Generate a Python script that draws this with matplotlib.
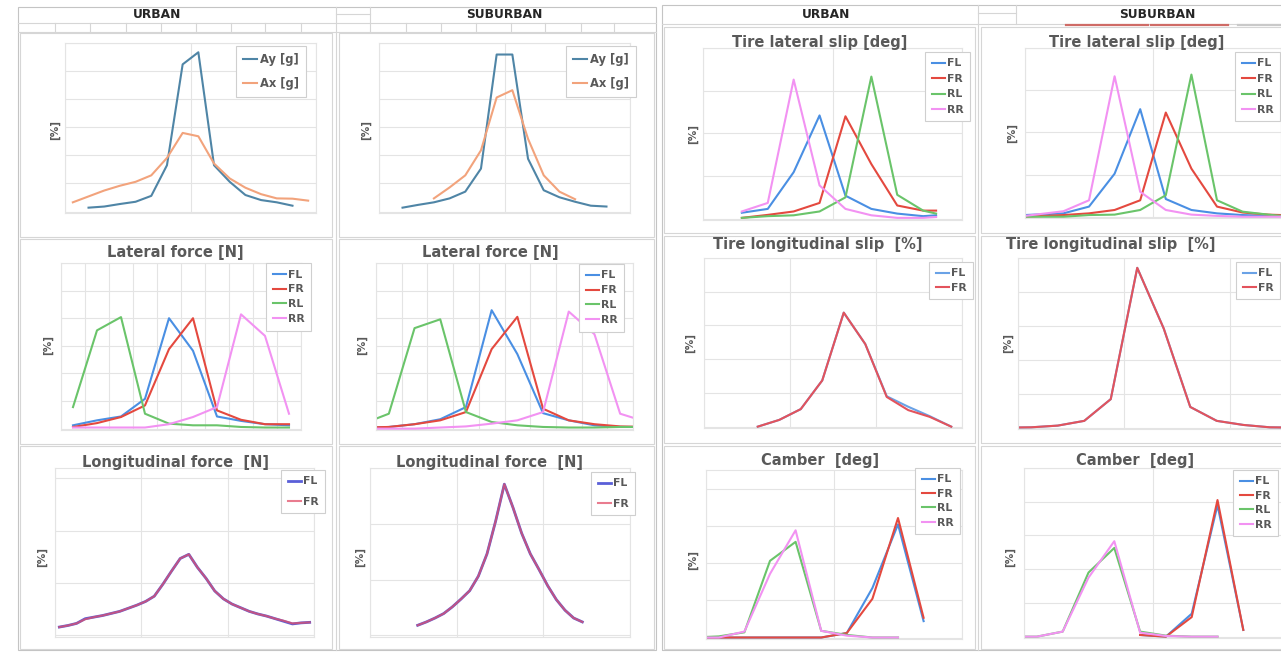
import numpy as np
import matplotlib
matplotlib.use("Agg")
import matplotlib.pyplot as plt
from matplotlib.lines import Line2D
from matplotlib.patches import Rectangle

W, H = 1281, 652
nan = np.nan

# ---------------------------------------------------------------- data
# vehicle accelerations, 16 bins
acc_bins = list(range(16))
ay_urban = [nan, 0.14, 0.18, 0.27, 0.35, 0.56, 1.65, 5.24, 5.67, 1.65, 1.06, 0.59, 0.41, 0.33, 0.21, nan]
ax_urban = [0.33, 0.54, 0.75, 0.92, 1.06, 1.29, 1.91, 2.80, 2.68, 1.71, 1.18, 0.85, 0.62, 0.47, 0.46, 0.39]
ay_suburban = [nan, 0.14, 0.24, 0.33, 0.47, 0.71, 1.53, 5.59, 5.59, 1.88, 0.76, 0.51, 0.35, 0.21, 0.18, nan]
ax_suburban = [nan, nan, nan, 0.47, 0.86, 1.29, 2.18, 4.06, 4.32, 2.59, 1.29, 0.71, 0.44, nan, nan, nan]

# lateral force, 10 bins (suburban has one extra bin on each side)
latf_bins_urban = list(range(10))
latf_fl_urban = [0.12, 0.30, 0.44, 1.08, 4.00, 2.82, 0.44, 0.28, 0.16, 0.12]
latf_fr_urban = [0.06, 0.20, 0.42, 0.84, 2.88, 4.00, 0.66, 0.32, 0.16, 0.16]
latf_rl_urban = [0.78, 3.56, 4.04, 0.54, 0.18, 0.12, 0.12, 0.06, 0.04, 0.04]
latf_rr_urban = [0.04, 0.04, 0.04, 0.04, 0.16, 0.42, 0.78, 4.14, 3.36, 0.54]
latf_bins_suburban = list(range(-1, 11))
latf_fl_suburban = [0.02, 0.06, 0.16, 0.34, 0.78, 4.29, 2.70, 0.56, 0.30, 0.12, 0.06, 0.06]
latf_fr_suburban = [0.04, 0.06, 0.16, 0.30, 0.60, 2.88, 4.05, 0.72, 0.30, 0.16, 0.08, 0.06]
latf_rl_suburban = [0.18, 0.54, 3.64, 3.96, 0.60, 0.24, 0.12, 0.06, 0.04, 0.04, 0.06, 0.06]
latf_rr_suburban = [0.00, 0.00, 0.00, 0.04, 0.08, 0.18, 0.30, 0.60, 4.24, 3.42, 0.54, 0.25]

# longitudinal force [N]
lonf_bins_urban = [-2900, -2700, -2500, -2300, -2100, -1900, -1700, -1500, -1300, -1100,
                   -900, -700, -500, -300, -100, 100, 300, 500, 700, 900,
                   1100, 1300, 1500, 1700, 1900, 2100, 2300, 2500, 2700, 2900]
lonf_fl_urban = [0.16, 0.19, 0.23, 0.32, 0.35, 0.38, 0.42, 0.46, 0.52, 0.58,
                 0.65, 0.75, 0.98, 1.23, 1.47, 1.55, 1.30, 1.09, 0.85, 0.70,
                 0.60, 0.53, 0.46, 0.41, 0.37, 0.32, 0.27, 0.22, 0.24, 0.25]
lonf_fr_urban = [0.16, 0.19, 0.23, 0.31, 0.35, 0.38, 0.42, 0.46, 0.52, 0.58,
                 0.65, 0.75, 0.98, 1.23, 1.47, 1.55, 1.30, 1.09, 0.85, 0.70,
                 0.60, 0.53, 0.46, 0.41, 0.37, 0.32, 0.28, 0.23, 0.24, 0.25]
lonf_bins_suburban = [-1900, -1700, -1500, -1300, -1100, -900, -700, -500, -300, -100,
                      100, 300, 500, 700, 900, 1100, 1300, 1500, 1700, 1900]
lonf_fl_suburban = [0.18, 0.24, 0.31, 0.39, 0.51, 0.65, 0.80, 1.06, 1.46, 2.05,
                    2.71, 2.29, 1.83, 1.46, 1.18, 0.89, 0.64, 0.45, 0.31, 0.24]
lonf_fr_suburban = [0.18, 0.24, 0.31, 0.39, 0.51, 0.65, 0.80, 1.06, 1.46, 2.05,
                    2.71, 2.29, 1.83, 1.46, 1.18, 0.89, 0.64, 0.45, 0.31, 0.24]

# tire lateral slip [deg]
slip_bins_urban = [-3.5, -2.5, -1.5, -0.5, 0.5, 1.5, 2.5, 3.5, 4.0]
slip_fl_urban = [0.14, 0.23, 1.09, 2.42, 0.54, 0.23, 0.12, 0.06, 0.08]
slip_fr_urban = [0.02, 0.09, 0.17, 0.37, 2.40, 1.28, 0.31, 0.19, 0.19]
slip_rl_urban = [0.02, 0.06, 0.08, 0.17, 0.50, 3.33, 0.56, 0.19, 0.12]
slip_rr_urban = [0.17, 0.37, 3.26, 0.78, 0.23, 0.08, 0.02, 0.02, 0.04]
slip_bins_suburban = [-5.0, -3.5, -2.5, -1.5, -0.5, 0.5, 1.5, 2.5, 3.5, 4.5, 5.0]
slip_fl_suburban = [0.04, 0.08, 0.24, 1.02, 2.55, 0.42, 0.16, 0.08, 0.04, 0.02, 0.02]
slip_fr_suburban = [0.00, 0.04, 0.08, 0.16, 0.39, 2.47, 1.14, 0.24, 0.10, 0.05, 0.04]
slip_rl_suburban = [0.00, 0.00, 0.04, 0.05, 0.16, 0.51, 3.37, 0.39, 0.12, 0.05, 0.02]
slip_rr_suburban = [0.02, 0.13, 0.39, 3.33, 0.59, 0.16, 0.05, 0.02, 0.00, 0.00, 0.00]

# tire longitudinal slip [%]
lslip_bins_urban = [-8.75, -6.25, -3.75, -1.25, 1.25, 3.75, 6.25, 8.75, 11.25, 13.75]
lslip_fl_urban = [0.00, 0.20, 0.52, 1.37, 3.38, 2.45, 0.90, 0.59, 0.31, 0.00]
lslip_fr_urban = [0.00, 0.20, 0.52, 1.37, 3.38, 2.45, 0.88, 0.49, 0.29, 0.00]
lslip_bins_suburban = [-16.25, -13.75, -11.25, -8.75, -6.25, -3.75, -1.25, 1.25, 3.75, 6.25, 8.75, 11.25]
lslip_fl_suburban = [0.00, 0.01, 0.06, 0.20, 0.84, 4.71, 2.92, 0.61, 0.20, 0.08, 0.01, 0.00]
lslip_fr_suburban = [0.00, 0.01, 0.06, 0.20, 0.84, 4.71, 2.92, 0.61, 0.20, 0.08, 0.01, 0.00]

# camber [deg]
camb_bins = [-5.5, -4.5, -3.5, -2.5, -1.5, -0.5, 0.5, 1.5, 2.5, 3.5, 4.5]
camb_fl_urban = [0.00, 0.00, 0.00, 0.00, 0.00, 0.00, 0.12, 1.33, 3.04, 0.44, nan]
camb_fr_urban = [0.00, 0.00, 0.00, 0.00, 0.00, 0.00, 0.12, 1.04, 3.21, 0.53, nan]
camb_rl_urban = [0.00, 0.03, 0.14, 2.06, 2.57, 0.18, 0.07, 0.00, 0.00, nan, nan]
camb_rr_urban = [0.00, 0.00, 0.16, 1.71, 2.88, 0.18, 0.05, 0.00, 0.00, nan, nan]
camb_fl_suburban = [nan, nan, nan, nan, nan, 0.05, 0.00, 0.68, 3.90, 0.20, nan]
camb_fr_suburban = [nan, nan, nan, nan, nan, 0.05, 0.00, 0.58, 4.05, 0.20, nan]
camb_rl_suburban = [0.00, 0.00, 0.15, 1.90, 2.63, 0.15, 0.03, 0.00, 0.00, nan, nan]
camb_rr_suburban = [0.00, 0.00, 0.15, 1.75, 2.83, 0.12, 0.02, 0.00, 0.00, nan, nan]

# ---------------------------------------------------------------- style
C_AY, C_AX = "#4f85a6", "#f2a37c"
C_FL, C_FR, C_RL, C_RR = "#4a8fe3", "#e4493f", "#6ac46a", "#f292f2"
C_FL2, C_FR2 = "#5a5fd8", "#e2506a"
TEXT = "#595959"
GRID = "#e4e4e4"
CELL = "#d6d6d6"
FRAME = "#c4c4c4"
LW = 1.5

plt.rcParams['font.family'] = ['DejaVu Sans']
fig = plt.figure(figsize=(W / 100, H / 100), dpi=100)
fig.patch.set_facecolor("white")


def fx(x):
    return x / W


def fy(y):
    return 1 - y / H


def hline(y, x0, x1, color=CELL, lw=0.8):
    fig.add_artist(Line2D([fx(x0), fx(x1)], [fy(y), fy(y)], transform=fig.transFigure,
                          color=color, lw=lw))


def vline(x, y0, y1, color=CELL, lw=0.8):
    fig.add_artist(Line2D([fx(x), fx(x)], [fy(y0), fy(y1)], transform=fig.transFigure,
                          color=color, lw=lw))


def box(x0, y0, x1, y1, color=CELL, lw=0.8):
    fig.add_artist(Rectangle((fx(x0), fy(y1)), fx(x1) - fx(x0), fy(y0) - fy(y1),
                             transform=fig.transFigure, fill=False, edgecolor=color, lw=lw))


def make_axes(x0, y0, x1, y1, xlim, ylim, xgrid, ygrid):
    ax = fig.add_axes([fx(x0), fy(y1), fx(x1) - fx(x0), fy(y0) - fy(y1)])
    ax.set_facecolor("none")
    ax.set_xlim(*xlim)
    ax.set_ylim(*ylim)
    ax.set_xticks(xgrid)
    ax.set_yticks(ygrid)
    ax.tick_params(length=0, labelbottom=False, labelleft=False)
    ax.grid(True, color=GRID, lw=0.8, zorder=0)
    ax.set_axisbelow(True)
    for s in ax.spines.values():
        s.set_color(GRID)
        s.set_linewidth(0.8)
    return ax


def add_legend(ax, handles, labels, x, y, spacing, fs=7.8):
    leg = ax.legend(handles, labels, loc="upper left",
                    bbox_to_anchor=(fx(x), fy(y)), bbox_transform=fig.transFigure,
                    frameon=True, fancybox=False, framealpha=1, edgecolor="#cfcfcf",
                    fontsize=fs, handlelength=1.2, handletextpad=0.25, borderpad=0.6,
                    labelspacing=spacing, borderaxespad=0)
    leg.get_frame().set_linewidth(0.8)
    for t in leg.get_texts():
        t.set_color(TEXT)
        t.set_fontweight("bold")
    leg.set_zorder(6)
    return leg


def title(text, x, y):
    fig.text(fx(x), fy(y), text, ha="center", va="center", fontsize=10.5,
             fontweight="bold", color=TEXT)


def ylab(x, y):
    fig.text(fx(x), fy(y), "[%]", ha="center", va="center", rotation=90,
             fontsize=7.5, fontweight="bold", color=TEXT)


def header(text, x):
    fig.text(fx(x), fy(15), text, ha="center", va="center", fontsize=8.8,
             fontweight="bold", color="#262626")


def four(ax, x, fl, fr, rl, rr, lx, ly, spacing):
    h = [ax.plot(x, fl, color=C_FL, lw=LW)[0],
         ax.plot(x, fr, color=C_FR, lw=LW)[0],
         ax.plot(x, rl, color=C_RL, lw=LW)[0],
         ax.plot(x, rr, color=C_RR, lw=LW)[0]]
    add_legend(ax, h, ["FL", "FR", "RL", "RR"], lx, ly, spacing)


# ---------------------------------------------------------------- sheet frames
# left sheet
box(18, 7, 656, 650, color=FRAME)
hline(23, 18, 656)
hline(32, 18, 656)
vline(336, 7, 650)
vline(370, 7, 32)
hline(14, 336, 370)
for xc in [55, 90, 126, 161, 196, 231, 265, 301, 406, 441, 476, 511, 545, 581, 614]:
    vline(xc, 23, 32)
for (y0, y1) in [(33, 237), (239, 444), (446, 649)]:
    box(20, y0, 332, y1)
    box(339, y0, 654, y1)
header("URBAN", 157)
header("SUBURBAN", 504)

# right sheet
box(662, 5, 1290, 650, color=FRAME)
hline(24, 662, 1281)
vline(978, 5, 650)
vline(1016, 5, 24)
hline(13, 978, 1016)
hline(25, 1066, 1148, color="#cf6b66", lw=1.6)
hline(25, 1151, 1228, color="#cf6b66", lw=1.6)
hline(25, 1238, 1281, color="#c9c9c9", lw=1.6)
for (y0, y1) in [(27, 233), (236, 443), (446, 649)]:
    box(664, y0, 975, y1)
    box(981, y0, 1290, y1)
header("URBAN", 826)
header("SUBURBAN", 1157)

# ---------------------------------------------------------------- accelerations
for (x0, x1, ay, axv, lx, ly, yl) in [
        (65, 316, ay_urban, ax_urban, 236, 46, 55),
        (379, 630, ay_suburban, ax_suburban, 566, 46, 366)]:
    a = make_axes(x0, 43, x1, 213, (-0.5, 15.5), (-0.05, 6), [-0.5, 7.5, 15.5], range(0, 7))
    h1, = a.plot(acc_bins, ay, color=C_AY, lw=LW)
    h2, = a.plot(acc_bins, axv, color=C_AX, lw=LW)
    add_legend(a, [h1, h2], ["Ay [g]", "Ax [g]"], lx, ly, 0.95, fs=8.3)
    ylab(yl, 130)

# ---------------------------------------------------------------- lateral force
a = make_axes(61, 263, 301, 430, (-0.5, 9.5), (-0.05, 6), np.arange(-0.5, 10, 1), range(0, 7))
four(a, latf_bins_urban, latf_fl_urban, latf_fr_urban, latf_rl_urban, latf_rr_urban, 266, 263, 0.45)
title("Lateral force [N]", 175, 253)
ylab(48, 345)

a = make_axes(376, 263, 633, 430, (-0.5, 9.5), (-0.05, 6), np.arange(-0.5, 10, 1), range(0, 7))
four(a, latf_bins_suburban, latf_fl_suburban, latf_fr_suburban, latf_rl_suburban, latf_rr_suburban,
     579, 264, 0.45)
title("Lateral force [N]", 490, 253)
ylab(362, 345)

# ---------------------------------------------------------------- longitudinal force
a = make_axes(55, 468, 314, 637, (-3000, 3000), (-0.03, 3.2), [-3000, -1000, 1000, 3000], [0, 1, 2, 3])
h1, = a.plot(lonf_bins_urban, lonf_fl_urban, color=C_FL2, lw=2.0)
h2, = a.plot(lonf_bins_urban, lonf_fr_urban, color=C_FR2, lw=1.5, alpha=0.75)
add_legend(a, [h1, h2], ["FL", "FR"], 281, 470, 0.95)
title("Longitudinal force  [N]", 175, 462)
ylab(42, 557)

a = make_axes(370, 468, 630, 637, (-3000, 3000), (-0.03, 3.0), [-3000, -1000, 1000, 3000], [0, 1, 2, 3])
h1, = a.plot(lonf_bins_suburban, lonf_fl_suburban, color=C_FL2, lw=2.0)
h2, = a.plot(lonf_bins_suburban, lonf_fr_suburban, color=C_FR2, lw=1.5, alpha=0.75)
add_legend(a, [h1, h2], ["FL", "FR"], 591, 472, 0.95)
title("Longitudinal force  [N]", 490, 462)
ylab(360, 557)

# ---------------------------------------------------------------- tire lateral slip
a = make_axes(703, 48, 962, 220, (-5, 5), (-0.03, 4), [-5, 0, 5], range(0, 5))
four(a, slip_bins_urban, slip_fl_urban, slip_fr_urban, slip_rl_urban, slip_rr_urban, 925, 52, 0.5)
title("Tire lateral slip [deg]", 820, 42)
ylab(693, 134)

a = make_axes(1025, 48, 1281, 218, (-5, 5), (-0.03, 4), [-5, 0, 5], range(0, 5))
four(a, slip_bins_suburban, slip_fl_suburban, slip_fr_suburban, slip_rl_suburban, slip_rr_suburban,
     1235, 52, 0.5)
title("Tire lateral slip [deg]", 1137, 42)
ylab(1012, 133)

# ---------------------------------------------------------------- tire longitudinal slip
a = make_axes(704, 258, 962, 428, (-15, 15), (-0.04, 5), [-15, -5, 5, 15], range(0, 6))
h1, = a.plot(lslip_bins_urban, lslip_fl_urban, color="#6aa2e6", lw=LW)
h2, = a.plot(lslip_bins_urban, lslip_fr_urban, color="#e3535c", lw=LW)
add_legend(a, [h1, h2], ["FL", "FR"], 929, 262, 0.4)
title("Tire longitudinal slip  [%]", 818, 245)
ylab(690, 343)

a = make_axes(1018, 258, 1336, 429, (-15, 15), (-0.04, 5), [-15, -5, 5, 15], range(0, 6))
h1, = a.plot(lslip_bins_suburban, lslip_fl_suburban, color="#6aa2e6", lw=LW)
h2, = a.plot(lslip_bins_suburban, lslip_fr_suburban, color="#e3535c", lw=LW)
add_legend(a, [h1, h2], ["FL", "FR"], 1236, 262, 0.4)
title("Tire longitudinal slip  [%]", 1111, 245)
ylab(1008, 343)

# ---------------------------------------------------------------- camber
a = make_axes(706, 470, 962, 639, (-5, 5), (-0.04, 4.5), [-5, 0, 5], range(0, 5))
four(a, camb_bins, camb_fl_urban, camb_fr_urban, camb_rl_urban, camb_rr_urban, 915, 468, 0.4)
title("Camber  [deg]", 820, 460)
ylab(693, 560)

a = make_axes(1024, 468, 1282, 638, (-5, 5), (-0.04, 5), [-5, 0, 5], range(0, 6))
four(a, camb_bins, camb_fl_suburban, camb_fr_suburban, camb_rl_suburban, camb_rr_suburban,
     1233, 470, 0.4)
title("Camber  [deg]", 1135, 460)
ylab(1010, 557)

fig.savefig("out.png", dpi=100)
